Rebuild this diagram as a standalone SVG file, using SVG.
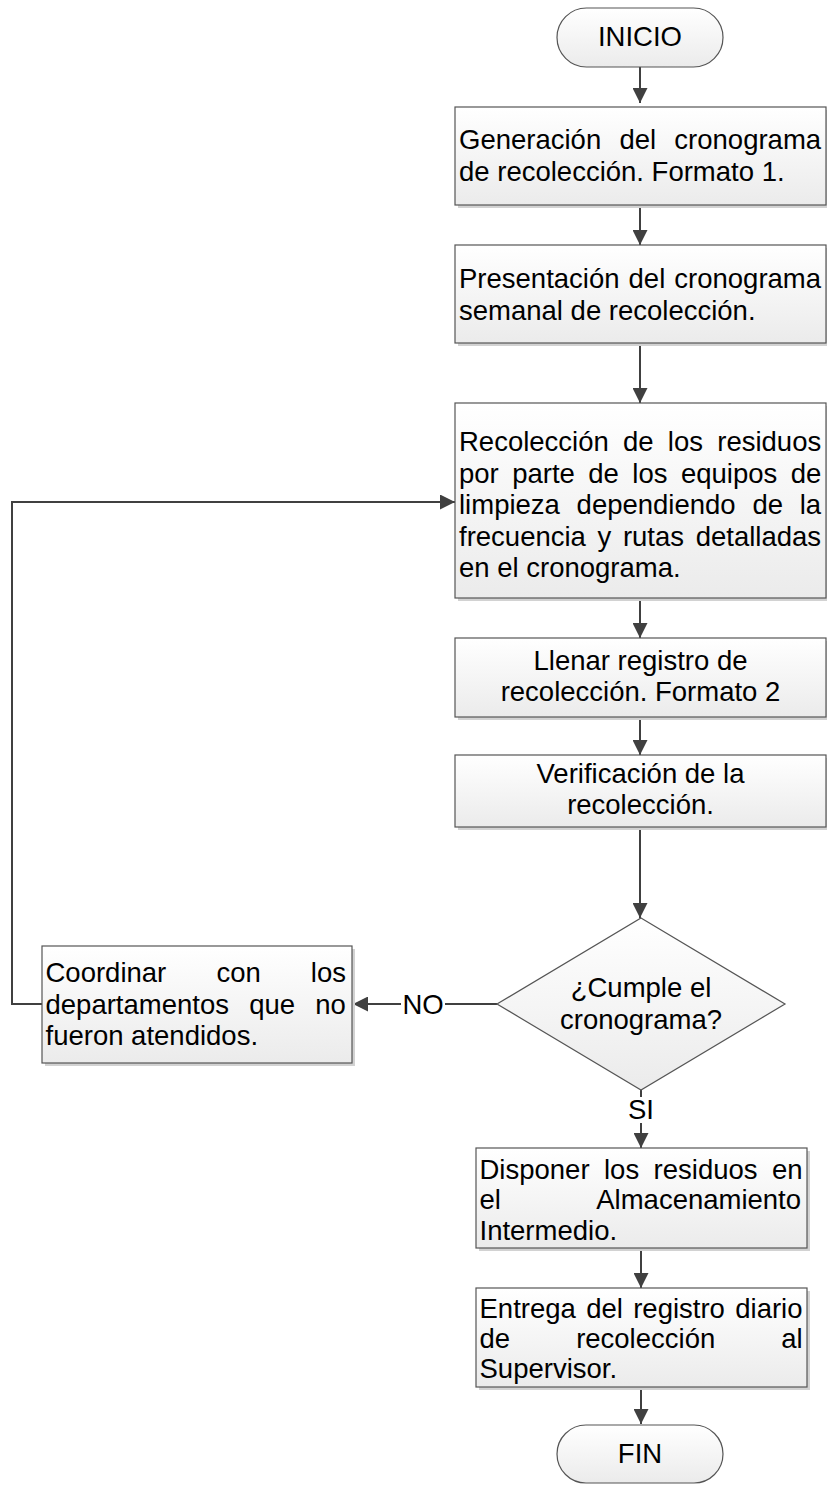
<svg xmlns="http://www.w3.org/2000/svg" width="827" height="1485" viewBox="0 0 827 1485">
<defs>
<linearGradient id="g" x1="0" y1="0" x2="0" y2="1">
<stop offset="0" stop-color="#ffffff"/>
<stop offset="1" stop-color="#ebebeb"/>
</linearGradient>
<marker id="arr" markerWidth="15" markerHeight="15" viewBox="0 0 15 15" refX="15" refY="7.5" orient="auto" markerUnits="userSpaceOnUse">
<path d="M0,0 L15,7.5 L0,15 Z" fill="#404040"/>
</marker>
<style>
.box{fill:url(#g);stroke:#555555;stroke-width:1.2}
.sh{fill:#d2d2d2}
.t{font-family:"Liberation Sans",Arial,sans-serif;font-size:27.5px;fill:#000000}
.c{text-anchor:middle}
.con{fill:none;stroke:#404040;stroke-width:2}
.lbl{fill:#ffffff}
</style>
</defs>
<rect width="827" height="1485" fill="#ffffff"/>

<g id="connectors">
<path class="con" d="M640,67 V103" marker-end="url(#arr)"/>
<path class="con" d="M640,205 V245" marker-end="url(#arr)"/>
<path class="con" d="M640,343 V403" marker-end="url(#arr)"/>
<path class="con" d="M640,598 V638" marker-end="url(#arr)"/>
<path class="con" d="M640,717 V755" marker-end="url(#arr)"/>
<path class="con" d="M640,827 V918" marker-end="url(#arr)"/>
<path class="con" d="M497,1004 H353" marker-end="url(#arr)"/>
<path class="con" d="M42,1004 H12 V502 H455" marker-end="url(#arr)"/>
<path class="con" d="M641,1090 V1148" marker-end="url(#arr)"/>
<path class="con" d="M641,1248 V1288" marker-end="url(#arr)"/>
<path class="con" d="M641,1387 V1424" marker-end="url(#arr)"/>
<rect class="lbl" x="401" y="990" width="44" height="28"/>
<text class="t c" x="423" y="1014">NO</text>
<rect class="lbl" x="626" y="1097" width="30" height="26"/>
<text class="t c" x="641" y="1119">SI</text>
</g>

<g id="inicio">
<rect x="557" y="8" width="166" height="59" rx="29.5" ry="29.5" class="box"/>
<text class="t c" x="640" y="46">INICIO</text>
</g>

<g id="generacion">
<rect class="sh" x="458" y="110" width="372" height="98"/>
<rect class="box" x="455" y="107" width="371" height="98"/>
<text class="t" x="459" y="149" style="word-spacing:10.6px">Generación del cronograma</text>
<text class="t" x="459" y="181">de recolección. Formato 1.</text>
</g>

<g id="presentacion">
<rect class="sh" x="458" y="248" width="372" height="98"/>
<rect class="box" x="455" y="245" width="371" height="98"/>
<text class="t" x="459" y="288" style="word-spacing:1.4px">Presentación del cronograma</text>
<text class="t" x="459" y="320">semanal de recolección.</text>
</g>

<g id="recoleccion">
<rect class="sh" x="458" y="406" width="372" height="195"/>
<rect class="box" x="455" y="403" width="371" height="195"/>
<text class="t" x="459" y="451" style="word-spacing:6.6px">Recolección de los residuos</text>
<text class="t" x="459" y="482.5" style="word-spacing:5.8px">por parte de los equipos de</text>
<text class="t" x="459" y="514" style="word-spacing:9.1px">limpieza dependiendo de la</text>
<text class="t" x="459" y="545.5" style="word-spacing:4px">frecuencia y rutas detalladas</text>
<text class="t" x="459" y="577">en el cronograma.</text>
</g>

<g id="llenar">
<rect class="sh" x="458" y="641" width="372" height="79"/>
<rect class="box" x="455" y="638" width="371" height="79"/>
<text class="t c" x="640.5" y="670">Llenar registro de</text>
<text class="t c" x="640.5" y="701">recolección. Formato 2</text>
</g>

<g id="verificacion">
<rect class="sh" x="458" y="758" width="372" height="72"/>
<rect class="box" x="455" y="755" width="371" height="72"/>
<text class="t c" x="640.5" y="783">Verificación de la</text>
<text class="t c" x="640.5" y="814">recolección.</text>
</g>

<g id="decision">
<path class="box" d="M641,918 L785,1004 L641,1090 L497,1004 Z"/>
<text class="t c" x="641" y="997">¿Cumple el</text>
<text class="t c" x="641" y="1029">cronograma?</text>
</g>

<g id="coordinar">
<rect class="sh" x="45" y="949" width="310" height="117"/>
<rect class="box" x="42" y="946" width="310" height="117"/>
<text class="t" x="45.5" y="982" style="word-spacing:42.5px">Coordinar con los</text>
<text class="t" x="45.5" y="1014" style="word-spacing:12.6px">departamentos que no</text>
<text class="t" x="45.5" y="1045">fueron atendidos.</text>
</g>

<g id="disponer">
<rect class="sh" x="479" y="1151" width="331" height="100"/>
<rect class="box" x="476" y="1148" width="331" height="100"/>
<text class="t" x="479.5" y="1179" style="word-spacing:6.8px">Disponer los residuos en</text>
<text class="t" x="479.5" y="1209" style="word-spacing:89.2px">el Almacenamiento</text>
<text class="t" x="479.5" y="1240">Intermedio.</text>
</g>

<g id="entrega">
<rect class="sh" x="479" y="1291" width="331" height="99"/>
<rect class="box" x="476" y="1288" width="331" height="99"/>
<text class="t" x="479.5" y="1318" style="word-spacing:2.7px">Entrega del registro diario</text>
<text class="t" x="479.5" y="1348" style="word-spacing:58.4px">de recolección al</text>
<text class="t" x="479.5" y="1378">Supervisor.</text>
</g>

<g id="fin">
<rect x="557" y="1425" width="166" height="58" rx="29" ry="29" class="box"/>
<text class="t c" x="640" y="1463">FIN</text>
</g>
</svg>
